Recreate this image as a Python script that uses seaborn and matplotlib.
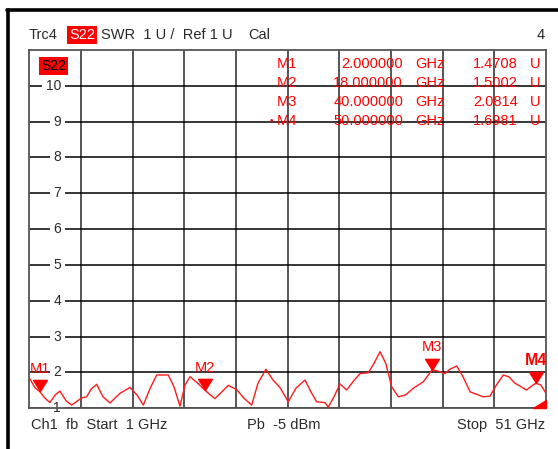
import matplotlib
matplotlib.use("Agg")
import matplotlib.pyplot as plt
import seaborn as sns
import pandas as pd
from matplotlib.path import Path
from matplotlib.patches import Polygon
from matplotlib.lines import Line2D

# ---------------- data ----------------
freq_ghz = [1.0, 1.55, 2.0, 2.52, 3.0, 3.49, 3.97, 4.55, 5.10, 6.07, 6.55, 6.97,
            7.52, 8.13, 8.81, 9.78, 10.74, 11.43, 12.03, 12.71, 13.33, 14.45,
            15.0, 15.58, 16.07, 16.55, 17.3, 18.0, 18.97, 20.26, 21.07, 21.78,
            22.52, 23.13, 23.9, 24.58, 25.26, 26.06, 26.8, 27.68, 28.25, 28.81,
            29.61, 29.93, 30.48, 31.07, 31.71, 32.32, 33.0, 33.8, 34.35, 34.94,
            35.5, 36.07, 36.71, 37.4, 38.16, 39.13, 40.0, 40.75, 41.23, 41.7,
            42.36, 42.97, 43.65, 44.2, 44.93, 45.58, 46.2, 46.87, 47.4, 48.0,
            48.6, 49.09, 50.0, 50.5, 51.0]
swr = [1.85, 1.57, 1.47, 1.28, 1.16, 1.37, 1.48, 1.21, 1.09, 1.29, 1.32, 1.53,
       1.67, 1.32, 1.15, 1.42, 1.58, 1.37, 1.09, 1.57, 1.93, 1.93,
       1.60, 1.06, 1.65, 1.88, 1.70, 1.50, 1.27, 1.64, 1.52, 1.28,
       1.09, 1.70, 2.09, 1.79, 1.58, 1.18, 1.56, 1.79, 1.46, 1.18,
       1.16, 1.03, 1.32, 1.68, 1.51, 1.74, 1.97, 1.99, 2.25, 2.58,
       2.25, 1.60, 1.32, 1.37, 1.56, 1.74, 2.08, 2.02, 1.97, 2.09,
       2.18, 1.88, 1.46, 1.40, 1.32, 1.34, 1.65, 1.93, 1.88, 1.70,
       1.60, 1.51, 1.70, 1.65, 1.42]

marker_names = ["M1", "M2", "M3", "M4"]
marker_freq = [2.0, 18.0, 40.0, 50.0]
marker_val = [1.4708, 1.5002, 2.0814, 1.6981]
marker_freq_txt = ["2.000000", "18.000000", "40.000000", "50.000000"]
marker_val_txt = ["1.4708", "1.5002", "2.0814", "1.6981"]

y_ticks = [1, 2, 3, 4, 5, 6, 7, 8, 9, 10]
x_grid = [1, 6, 11, 16, 21, 26, 31, 36, 41, 46, 51]

# ---------------- figure ----------------
W, H = 558, 449
sns.set_theme(style="white")
plt.rcParams['font.family'] = ['Liberation Sans', 'DejaVu Sans']
fig = plt.figure(figsize=(W / 100, H / 100), dpi=100)
fs = 10
txt_col = "#2a2a2a"

def fx(px):
    return px / W

def fy(py):
    return 1 - py / H

ax = fig.add_axes([fx(29.3), fy(408.3), fx(546) - fx(29.3), fy(50) - fy(408.3)])
ax.set_xlim(1, 51)
ax.set_ylim(1, 11)
ax.set_xticks([])
ax.set_yticks([])
for s in ax.spines.values():
    s.set_color("#555555")
    s.set_linewidth(1.3)

# grid
for xv in x_grid[1:-1]:
    ax.axvline(xv, color="#555555", lw=1.4, zorder=1)
for yv in y_ticks:
    ax.axhline(yv, color="black", lw=1.1, zorder=1)

# y tick labels inside plot with white gap
for yv in y_ticks:
    ax.text(0.0615, yv, str(yv), transform=ax.get_yaxis_transform(),
            ha="right", va="center", fontsize=fs, color=txt_col, zorder=2,
            bbox=dict(boxstyle="square,pad=0.25", fc="white", ec="none"))

# trace
df = pd.DataFrame({"f": freq_ghz, "swr": swr})
sns.lineplot(data=df, x="f", y="swr", ax=ax, color="#ff1a1a", lw=1.0,
             zorder=4, sort=False)
ax.set_xlabel("")
ax.set_ylabel("")

# marker triangles (tip at data point)
tri = Path([(-0.62, 1.0), (0.62, 1.0), (0.0, 0.0), (-0.62, 1.0)],
           [Path.MOVETO, Path.LINETO, Path.LINETO, Path.CLOSEPOLY])
for i, (name, f, v) in enumerate(zip(marker_names, marker_freq, marker_val)):
    ax.plot([f], [v], marker=tri, markersize=16, color="#ff0000", ls="none",
            zorder=5, clip_on=False)
    bold = name == "M4"
    ax.annotate(name, (f, v), xytext=(0, 11), textcoords="offset points",
                ha="center", va="bottom", color="#ff0000",
                fontsize=fs + (1.5 if bold else 0.5),
                fontweight="bold" if bold else "normal", zorder=6,
                annotation_clip=False)

# out-of-range indicator bottom-right
ax.add_patch(Polygon([(0.975, 0.0), (1.0, 0.0), (1.0, 0.024)], closed=True,
                     transform=ax.transAxes, color="#ff0000", zorder=6,
                     clip_on=False))

# S22 label in plot
fig.text(fx(41), fy(66), "S22", ha="left", va="center", fontsize=fs,
         color="black", bbox=dict(boxstyle="square,pad=0.12", fc="#ff0000", ec="none"))

# marker table
row_y = [64, 83, 102, 121]
for i in range(4):
    y = fy(row_y[i])
    kw = dict(va="center", fontsize=fs + 0.5, color="#ff0000", zorder=10)
    fig.text(fx(277), y, marker_names[i], ha="left", **kw)
    fig.text(fx(403), y, marker_freq_txt[i], ha="right", **kw)
    fig.text(fx(415), y, "GHz", ha="left", **kw)
    fig.text(fx(518), y, marker_val_txt[i], ha="right", **kw)
    fig.text(fx(530), y, "U", ha="left", **kw)
fig.text(fx(270), fy(121), "\u2022", ha="left", va="center", fontsize=7, color="#ff0000")

# header
hy = fy(35)
fig.text(fx(29), hy, "Trc4", ha="left", va="center", fontsize=fs + 0.5, color=txt_col)
fig.text(fx(69), hy, "S22", ha="left", va="center", fontsize=fs + 0.5, color="white",
         bbox=dict(boxstyle="square,pad=0.12", fc="#ff0000", ec="none"))
fig.text(fx(101), hy, "SWR  1 U /  Ref 1 U", ha="left", va="center",
         fontsize=fs + 0.5, color=txt_col)
fig.text(fx(248), hy, "Cal", ha="left", va="center", fontsize=fs + 0.5, color=txt_col)
fig.text(fx(545), hy, "4", ha="right", va="center", fontsize=fs + 0.5, color=txt_col)

# footer
by = fy(425)
fig.text(fx(31), by, "Ch1  fb  Start  1 GHz", ha="left", va="center",
         fontsize=fs + 0.5, color=txt_col)
fig.text(fx(247), by, "Pb  -5 dBm", ha="left", va="center",
         fontsize=fs + 0.5, color=txt_col)
fig.text(fx(545), by, "Stop  51 GHz", ha="right", va="center",
         fontsize=fs + 0.5, color=txt_col)

# outer frame (thick black left and top edges)
fig.add_artist(Line2D([fx(8), fx(8)], [fy(10), 0], color="black", lw=2.6,
                      transform=fig.transFigure))
fig.add_artist(Line2D([fx(7), 1], [fy(10), fy(10)], color="black", lw=2.6,
                      transform=fig.transFigure))

fig.savefig("out.png", dpi=100)
